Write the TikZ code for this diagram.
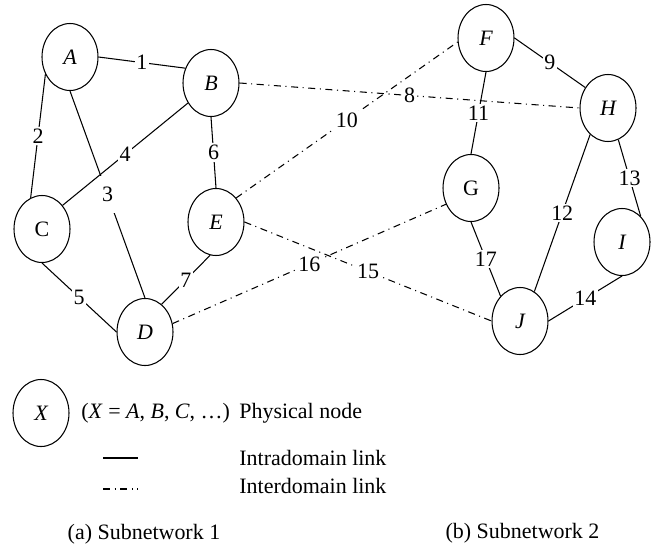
\documentclass[tikz,border=0pt]{standalone}
\usepackage{fontspec}
\setmainfont{Liberation Serif}
\usepackage{tikz}
\usetikzlibrary{shapes.geometric}

\begin{document}
\begin{tikzpicture}[line width=0.6pt,
  every node/.style={font=\fontsize{12.5}{15}\selectfont},
  pnode/.style={draw, ellipse, inner sep=0pt, minimum width=1.12cm, minimum height=1.34cm},
  intra/.style={draw},
  inter/.style={draw, dash pattern=on 4pt off 2.6pt on 0.6pt off 2.6pt},
  lbl/.style={fill=white, inner sep=1pt}]
\useasboundingbox (0,0) rectangle (13.28,10.96);
% subnetwork 1
\node[pnode] (A) at (1.40,9.82) {\itshape A};
\node[pnode] (B) at (4.22,9.30) {\itshape B};
\node[pnode] (C) at (0.84,6.38) {C};
\node[pnode] (E) at (4.32,6.52) {\itshape E};
\node[pnode] (D) at (2.90,4.32) {\itshape D};
% subnetwork 2
\node[pnode] (F) at (9.72,10.20) {\itshape F};
\node[pnode] (H) at (12.16,8.80) {\itshape H};
\node[pnode] (G) at (9.42,7.20) {G};
\node[pnode] (I) at (12.44,6.12) {\itshape I};
\node[pnode] (J) at (10.40,4.54) {\itshape J};
% intradomain links
\draw[intra] (A.east) -- node[lbl] {1} (B.150);
\draw[intra] (A.215) -- node[lbl] {2} (C.110);
\draw[intra] (A.south) -- node[lbl, minimum height=0.75cm] {3} (D.north);
\draw[intra] (B.221) -- node[lbl] {4} (C.49);
\draw[intra] (C.south) -- node[lbl] {5} (D.west);
\draw[intra] (B.south) -- node[lbl] {6} (E.north);
\draw[intra] (E.260) -- node[lbl] {7} (D.59);
\draw[intra] (F.east) -- node[lbl] {9} (H.138);
\draw[intra] (F.south) -- node[lbl] {11} (G.north);
\draw[intra] (H.236) -- node[lbl] {12} (J.64);
\draw[intra] (H.288) -- node[lbl] {13} (I.54);
\draw[intra] (I.south) -- node[lbl] {14} (J.east);
\draw[intra] (G.south) -- node[lbl] {17} (J.128);
% interdomain links
\draw[inter] (B.east) -- node[lbl] {8} (H.west);
\draw[inter] (E.50) -- node[lbl] {10} (F.188);
\draw[inter] (E.east) -- node[lbl] {15} (J.west);
\draw[inter] (D.17) -- node[lbl] {16} (G.213);
% legend
\node[pnode] (X) at (0.82,2.70) {\itshape X};
\node[anchor=west] (xeq) at (1.50,2.70) {(\textit{X} = \textit{A}, \textit{B}, \textit{C}, \dots)};
\node[anchor=west] (phys) at (4.66,2.70) {Physical node};
\coordinate (sa) at (2.06,1.80);
\coordinate (sb) at (2.76,1.80);
\draw[intra] (sa) -- (sb);
\node[anchor=west] (intratxt) at (4.66,1.80) {Intradomain link};
\coordinate (da) at (2.06,1.18);
\coordinate (db) at (2.76,1.18);
\draw[inter] (da) -- (db);
\node[anchor=west] (intertxt) at (4.66,1.24) {Interdomain link};
\node (capa) at (2.88,0.28) {(a) Subnetwork 1};
\node (capb) at (10.45,0.30) {(b) Subnetwork 2};
\end{tikzpicture}
\end{document}
